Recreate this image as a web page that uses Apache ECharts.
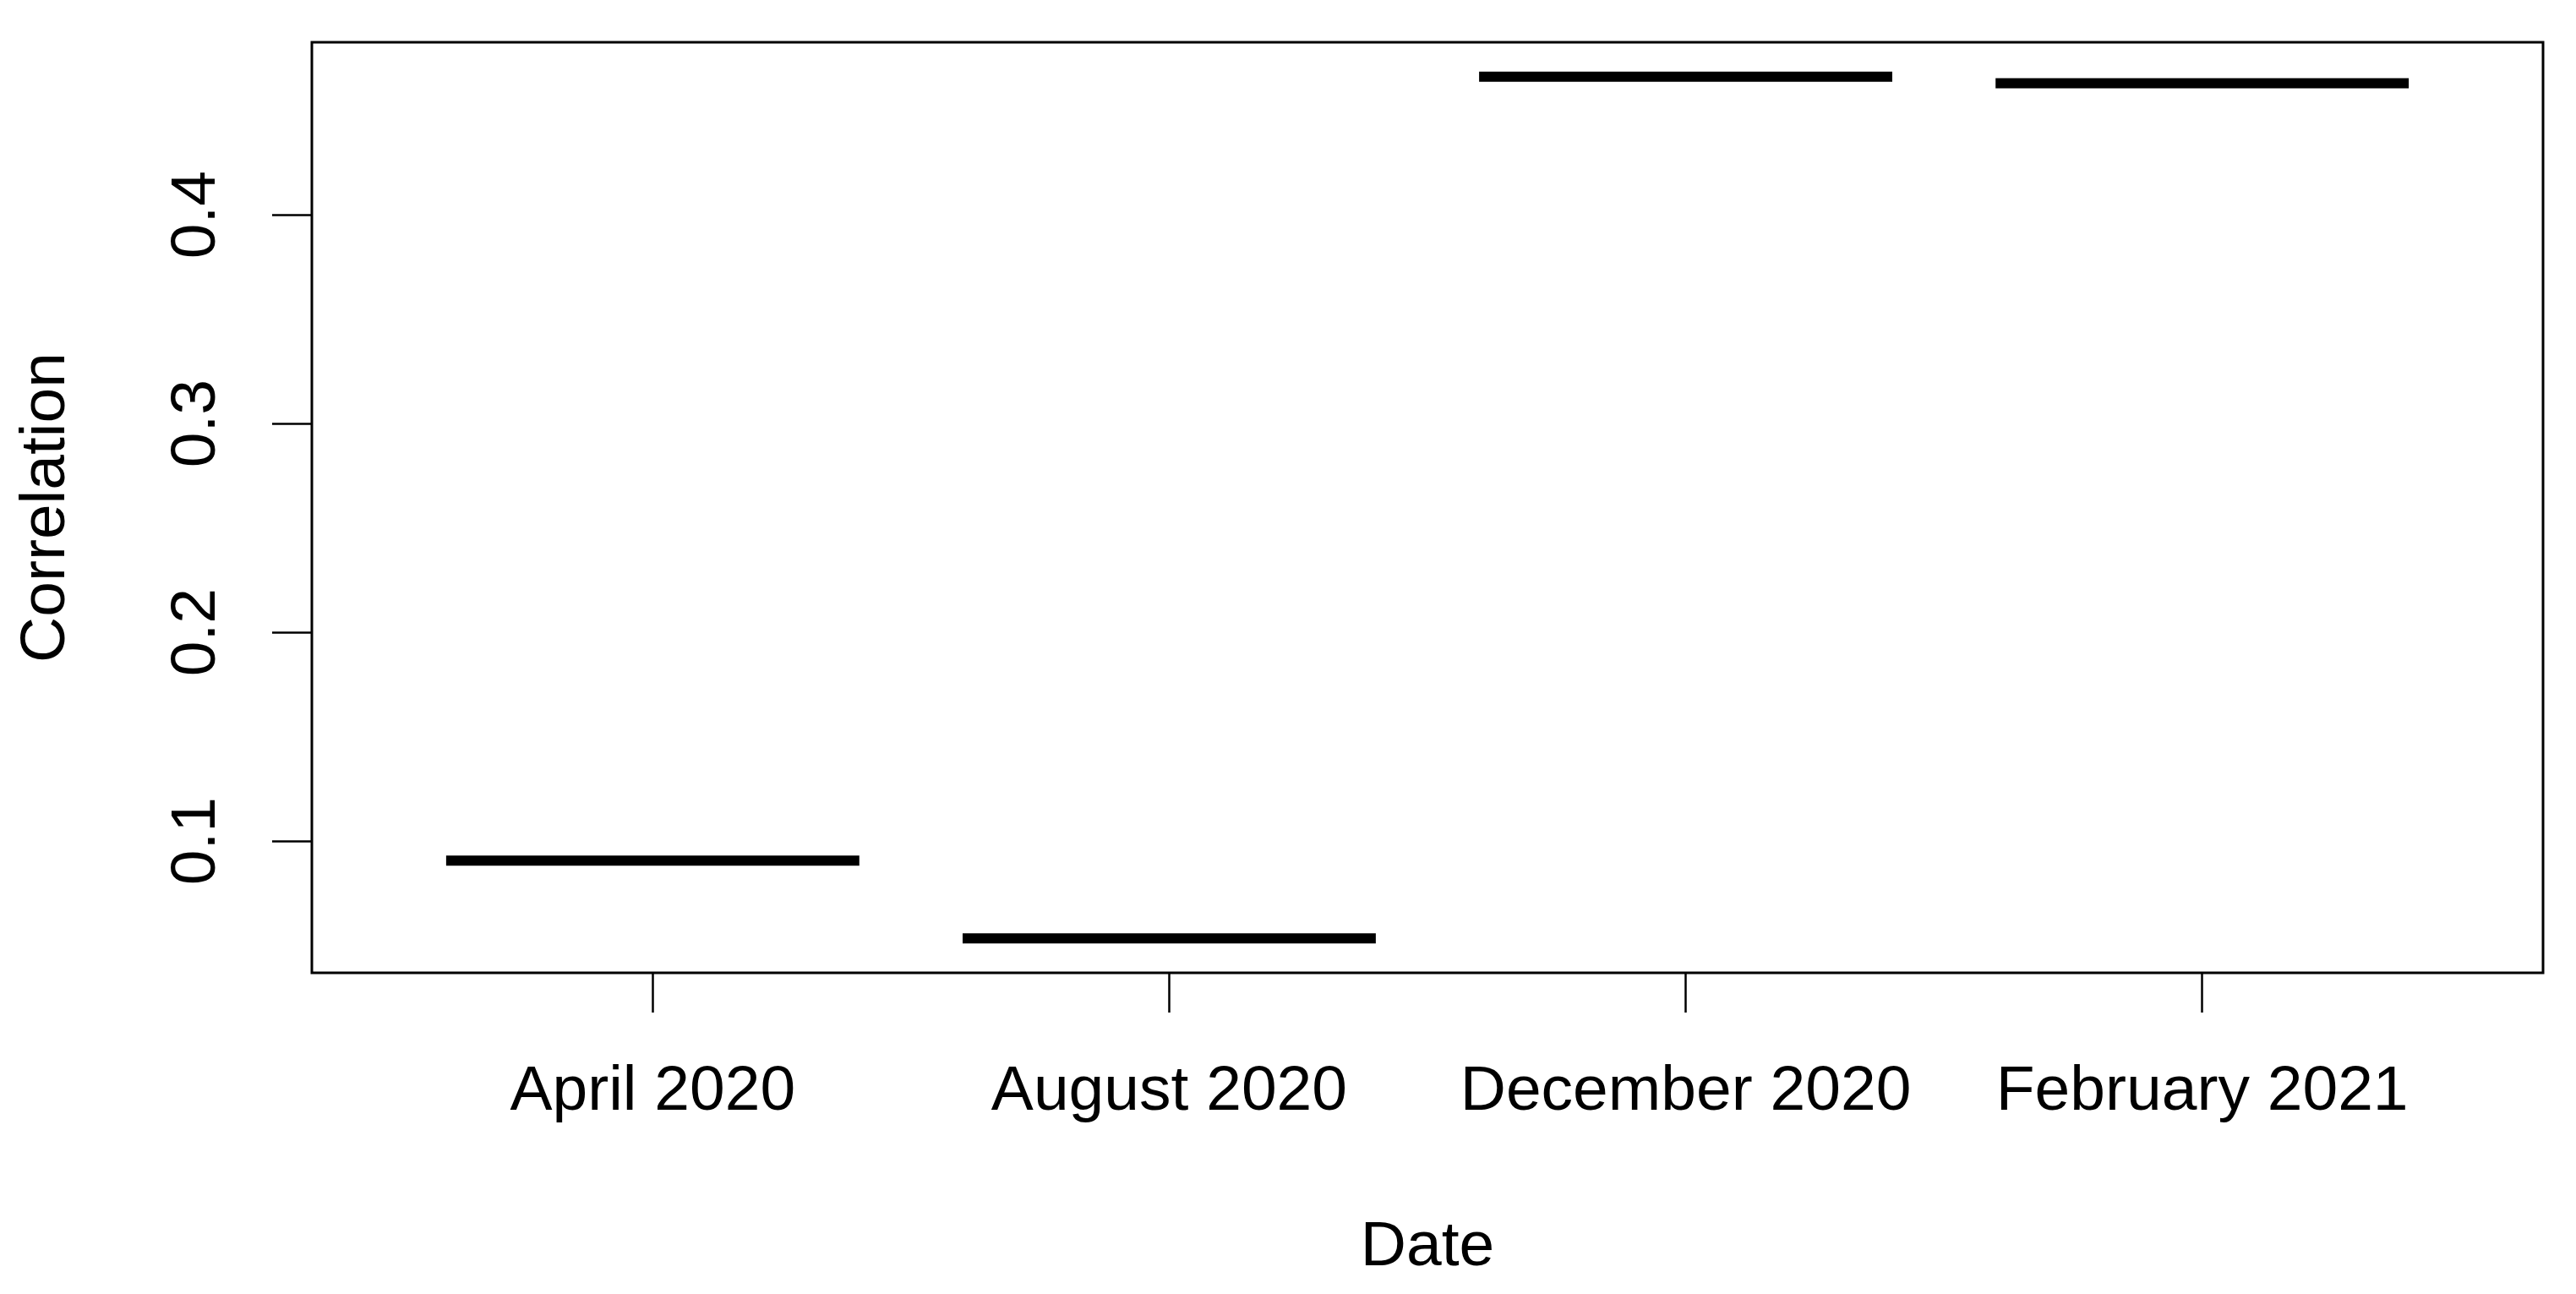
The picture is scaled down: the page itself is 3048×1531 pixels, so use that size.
<!DOCTYPE html>
<html>
<head>
<meta charset="utf-8">
<title>Correlation by date</title>
<script src="https://cdn.jsdelivr.net/npm/echarts@6/dist/echarts.min.js"></script>
<style>
  html, body { margin: 0; padding: 0; background: #fff; }
  #chart { width: 3048px; height: 1531px; }
</style>
</head>
<body>
<div id="chart"></div>
<script>
// data (one value per date, drawn as the median bar)
const categories = ['April 2020', 'August 2020', 'December 2020', 'February 2021']
const correlation = [0.0906, 0.0534, 0.4661, 0.4630]
const yTicks = [0.1, 0.2, 0.3, 0.4]
const xTicks = [1, 2, 3, 4]

// R style ranges: 4% padding around data / box positions
const boxHalf = 0.4
const yMin = 0.0369
const yMax = 0.4826
const xMin = 0.34
const xMax = 4.66

const font = "'Liberation Sans', Arial, sans-serif"
const fontSize = 75

const chart = echarts.init(document.getElementById('chart'))

chart.setOption({
  animation: false,
  backgroundColor: '#fff',
  grid: {
    left: 369,
    right: 39,
    top: 50,
    bottom: 380,
    show: true,
    borderColor: '#000',
    borderWidth: 3,
    backgroundColor: 'transparent'
  },
  xAxis: {
    type: 'value',
    min: xMin,
    max: xMax,
    name: 'Date',
    nameLocation: 'middle',
    nameGap: 288,
    nameTextStyle: { color: '#000', fontSize: fontSize, fontFamily: font },
    axisLine: { show: false },
    splitLine: { show: false },
    axisTick: {
      show: true,
      customValues: xTicks,
      length: 47,
      lineStyle: { color: '#000', width: 2.5 }
    },
    axisLabel: {
      customValues: xTicks,
      margin: 104,
      color: '#000',
      fontSize: fontSize,
      fontFamily: font,
      formatter: (v) => categories[Math.round(v) - 1]
    }
  },
  yAxis: {
    type: 'value',
    min: yMin,
    max: yMax,
    name: 'Correlation',
    nameLocation: 'middle',
    nameGap: 276,
    nameTextStyle: { color: '#000', fontSize: fontSize, fontFamily: font },
    axisLine: { show: false },
    splitLine: { show: false },
    axisTick: {
      show: true,
      customValues: yTicks,
      length: 47,
      lineStyle: { color: '#000', width: 2.5 }
    },
    axisLabel: {
      customValues: yTicks,
      rotate: 90,
      margin: 98,
      color: '#000',
      fontSize: fontSize,
      fontFamily: font,
      formatter: (v) => v.toFixed(1)
    }
  },
  series: [
    {
      type: 'custom',
      data: correlation.map((v, i) => [xTicks[i], v]),
      renderItem: (params, api) => {
        const x = api.value(0)
        const y = api.value(1)
        const p1 = api.coord([x - boxHalf, y])
        const p2 = api.coord([x + boxHalf, y])
        return {
          type: 'line',
          shape: { x1: p1[0], y1: p1[1], x2: p2[0], y2: p2[1] },
          style: { stroke: '#000', lineWidth: 12, lineCap: 'butt' }
        }
      }
    }
  ]
})
</script>
</body>
</html>
